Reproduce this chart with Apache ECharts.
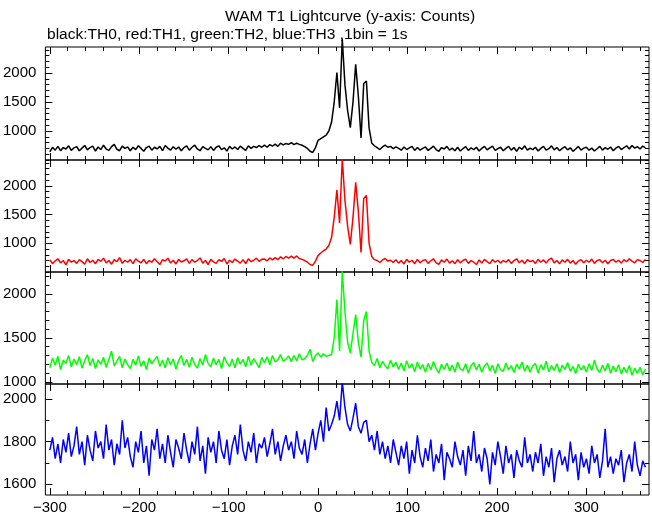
<!DOCTYPE html>
<html><head><meta charset="utf-8">
<script src="https://cdn.jsdelivr.net/npm/echarts@6/dist/echarts.min.js"></script>
<style>html,body{margin:0;padding:0;background:#fff}#c{width:652px;height:515px}</style>
</head><body><div id="c"></div><script>
// time bins (s), 3-s resampling of the 1-s light curve
const binStart = -300, binWidth = 3;
const th0 = [
640,720,670,735,660,715,690,745,665,710,
730,660,705,750,675,715,740,655,725,680,
755,690,665,730,770,685,660,740,700,725,
660,720,680,745,700,650,715,740,670,720,
690,735,660,750,705,670,730,685,725,660,
715,745,670,720,755,690,660,730,700,675,
730,665,720,745,680,710,655,735,690,725,
680,740,700,665,745,700,735,715,750,720,
755,720,765,740,775,735,790,760,785,770,
800,765,790,770,755,730,700,650,630,710,
840,870,900,930,1000,1150,1500,2010,1400,2590,
1800,1350,1060,1500,2150,1600,880,1820,1860,1050,
790,745,715,680,725,755,720,735,695,725,
700,670,725,680,710,735,665,715,670,700,
725,665,700,740,680,650,715,690,735,670,
705,660,720,655,695,730,665,710,680,720,
655,700,735,675,710,740,665,695,720,660,
700,735,670,715,650,720,685,745,670,705,
680,720,655,700,735,670,695,745,675,715,
660,700,730,675,710,650,690,735,670,705,
720,670,705,655,695,735,670,715,685,725,
660,705,735,680,715,745,690,750,705,730,
690,740,710];
const th1 = [
710,645,695,730,660,700,625,720,670,700,
650,715,680,635,730,665,705,645,720,685,
740,660,700,635,715,680,750,650,705,670,
715,645,730,690,660,720,645,700,670,730,
680,630,715,690,740,655,705,640,720,675,
695,730,650,715,670,700,745,655,700,630,
720,675,650,715,685,735,640,705,665,725,
690,655,715,645,730,680,705,740,685,720,
725,695,745,710,750,715,765,730,770,740,
775,740,780,735,720,700,670,630,615,690,
790,830,870,900,960,1100,1450,1930,1350,2470,
1750,1300,980,1450,2060,1550,840,1780,1830,1000,
770,715,700,665,710,735,690,705,665,715,
655,700,640,720,670,705,645,720,660,700,
715,650,695,730,660,635,710,670,725,655,
695,645,715,660,700,725,650,700,670,630,
710,655,720,680,645,715,670,705,655,700,
670,715,650,700,730,660,705,645,715,680,
700,650,720,670,710,655,715,740,660,700,
645,710,670,720,655,700,635,690,715,660,
705,670,725,650,700,715,660,705,645,700,
720,670,705,655,715,680,730,690,660,715,
700,665,720];
const th2 = [
1160,1270,1190,1290,1140,1245,1210,1300,1170,1260,
1195,1285,1155,1240,1310,1185,1265,1150,1250,1200,
1280,1165,1255,1350,1180,1235,1290,1160,1260,1195,
1150,1255,1190,1295,1175,1240,1140,1270,1205,1250,
1290,1175,1245,1160,1275,1195,1260,1145,1240,1300,
1185,1255,1165,1280,1200,1155,1265,1190,1310,1210,
1170,1270,1195,1255,1150,1285,1215,1175,1260,1160,
1275,1200,1255,1170,1290,1190,1265,1215,1160,1280,
1215,1285,1195,1300,1225,1250,1310,1235,1255,1295,
1230,1300,1240,1320,1250,1265,1300,1370,1230,1300,
1330,1280,1320,1290,1300,1310,1500,1935,1350,2260,
1800,1450,1330,1550,1765,1450,1280,1700,1800,1350,
1220,1185,1265,1160,1235,1180,1150,1245,1170,1225,
1140,1215,1125,1240,1155,1205,1115,1225,1145,1195,
1110,1210,1135,1230,1150,1100,1200,1140,1215,1125,
1190,1110,1225,1145,1130,1205,1100,1185,1220,1135,
1200,1110,1180,1215,1125,1190,1095,1205,1140,1120,
1215,1135,1185,1105,1200,1145,1225,1120,1190,1110,
1180,1210,1100,1195,1135,1235,1115,1185,1130,1205,
1105,1190,1140,1220,1120,1175,1095,1200,1135,1185,
1110,1205,1130,1245,1145,1105,1190,1125,1210,1100,
1180,1115,1195,1090,1165,1105,1185,1075,1155,1095,
1165,1080,1145];
const th3 = [
1760,1820,1720,1790,1700,1810,1750,1840,1730,1780,
1870,1740,1800,1690,1830,1760,1710,1850,1770,1800,
1720,1880,1760,1810,1690,1790,1740,1900,1770,1820,
1730,1680,1800,1750,1850,1700,1780,1640,1810,1760,
1860,1720,1790,1700,1830,1750,1680,1810,1770,1720,
1840,1760,1700,1800,1740,1870,1710,1780,1650,1820,
1750,1800,1700,1850,1760,1720,1810,1690,1780,1830,
1740,1880,1760,1710,1800,1750,1840,1700,1790,1770,
1820,1730,1790,1860,1740,1800,1710,1780,1830,1760,
1800,1720,1850,1770,1740,1810,1700,1790,1860,1760,
1840,1900,1800,1960,1850,1880,1920,1990,1900,2080,
1960,1880,1850,1910,1980,1870,1840,1890,1900,1800,
1830,1760,1850,1740,1800,1720,1780,1700,1810,1750,
1690,1780,1720,1800,1650,1760,1700,1830,1730,1680,
1770,1710,1810,1660,1740,1700,1790,1620,1750,1720,
1680,1800,1730,1690,1760,1640,1780,1710,1850,1700,
1740,1660,1770,1720,1600,1750,1690,1800,1730,1650,
1780,1700,1740,1630,1760,1710,1680,1820,1700,1740,
1660,1750,1700,1790,1640,1730,1680,1770,1610,1720,
1760,1690,1730,1660,1800,1700,1740,1620,1750,1680,
1720,1650,1780,1700,1740,1630,1710,1860,1680,1730,
1650,1720,1690,1760,1610,1700,1740,1660,1800,1690,
1640,1710,1680];

const xMajorTicks = [-300,-200,-100,0,100,200,300];
const xMinorStep = 20;
const yMajorTicks = [[1000,1500,2000],[1000,1500,2000],[1000,1500,2000],[1600,1800,2000]];
const yMinorStep = 100;
const yRanges = [[500,2450],[500,2450],[975,2250],[1550,2070]];
const xRange = [-305, 370];
const seriesNames = ['TH0','TH1','TH2','TH3'];
const seriesData = [th0, th1, th2, th3];
const colors = ['#000000','#ff0000','#00ff00','#0000ff'];
const panels = [{top:47,height:113},{top:160,height:112},{top:272,height:112},{top:384,height:112}];
const titleText = 'WAM T1 Lightcurve (y-axis: Counts)';
const subtitleText = 'black:TH0, red:TH1, green:TH2, blue:TH3 ,1bin = 1s';

const FONT = 'Liberation Sans, Arial, sans-serif';
function stepList(a, b, s){ const r=[]; for(let v=Math.ceil(a/s)*s; v<=b; v+=s) r.push(v); return r; }
const xMinorTicks = stepList(xRange[0], xRange[1], xMinorStep);

const grid=[], xAxis=[], yAxis=[], series=[];
panels.forEach((p,g)=>{
  grid.push({left:45, right:3, top:p.top, height:p.height, show:true, borderColor:'#000', borderWidth:1, containLabel:false});
  const yMinor = stepList(yRanges[g][0], yRanges[g][1], yMinorStep);
  ['bottom','top'].forEach(pos=>{
    [[xMajorTicks,7],[xMinorTicks,4]].forEach(([vals,len],k)=>{
      xAxis.push({gridIndex:g, type:'value', position:pos, min:xRange[0], max:xRange[1],
        axisLine:{show:false, onZero:false}, splitLine:{show:false},
        axisTick:{show:true, inside:true, length:len, customValues:vals, lineStyle:{color:'#000',width:1}},
        axisLabel:{show:(g===3 && pos==='bottom' && k===0), customValues:xMajorTicks, margin:5,
          color:'#000', fontFamily:FONT, fontSize:15,
          formatter:v=>String(v).replace('-','\u2212')}});
    });
  });
  ['left','right'].forEach(pos=>{
    [[yMajorTicks[g],7],[yMinor,4]].forEach(([vals,len],k)=>{
      yAxis.push({gridIndex:g, type:'value', position:pos, min:yRanges[g][0], max:yRanges[g][1],
        axisLine:{show:false, onZero:false}, splitLine:{show:false},
        axisTick:{show:true, inside:true, length:len, customValues:vals, lineStyle:{color:'#000',width:1}},
        axisLabel:{show:(pos==='left' && k===0), customValues:yMajorTicks[g], margin:9,
          color:'#000', fontFamily:FONT, fontSize:15, formatter:v=>String(v)}});
    });
  });
  series.push({name:seriesNames[g], type:'line', xAxisIndex:g*4, yAxisIndex:g*4,
    data:seriesData[g].map((v,i)=>[binStart+i*binWidth, v]),
    showSymbol:false, symbol:'none', clip:(g!==0), animation:false,
    lineStyle:{color:colors[g], width:1.5}, itemStyle:{color:colors[g]}});
});

const chart = echarts.init(document.getElementById('c'), null, {renderer:'canvas'});
chart.setOption({
  backgroundColor:'#ffffff', animation:false,
  grid, xAxis, yAxis, series,
  graphic:[
    {type:'text', x:225, y:17, scaleX:1.115, style:{text:titleText, fill:'#000', font:'14px '+FONT, align:'left', verticalAlign:'middle'}},
    {type:'text', x:47, y:35, scaleX:1.11, style:{text:subtitleText, fill:'#000', font:'14px '+FONT, align:'left', verticalAlign:'middle'}}
  ]
});
</script></body></html>
